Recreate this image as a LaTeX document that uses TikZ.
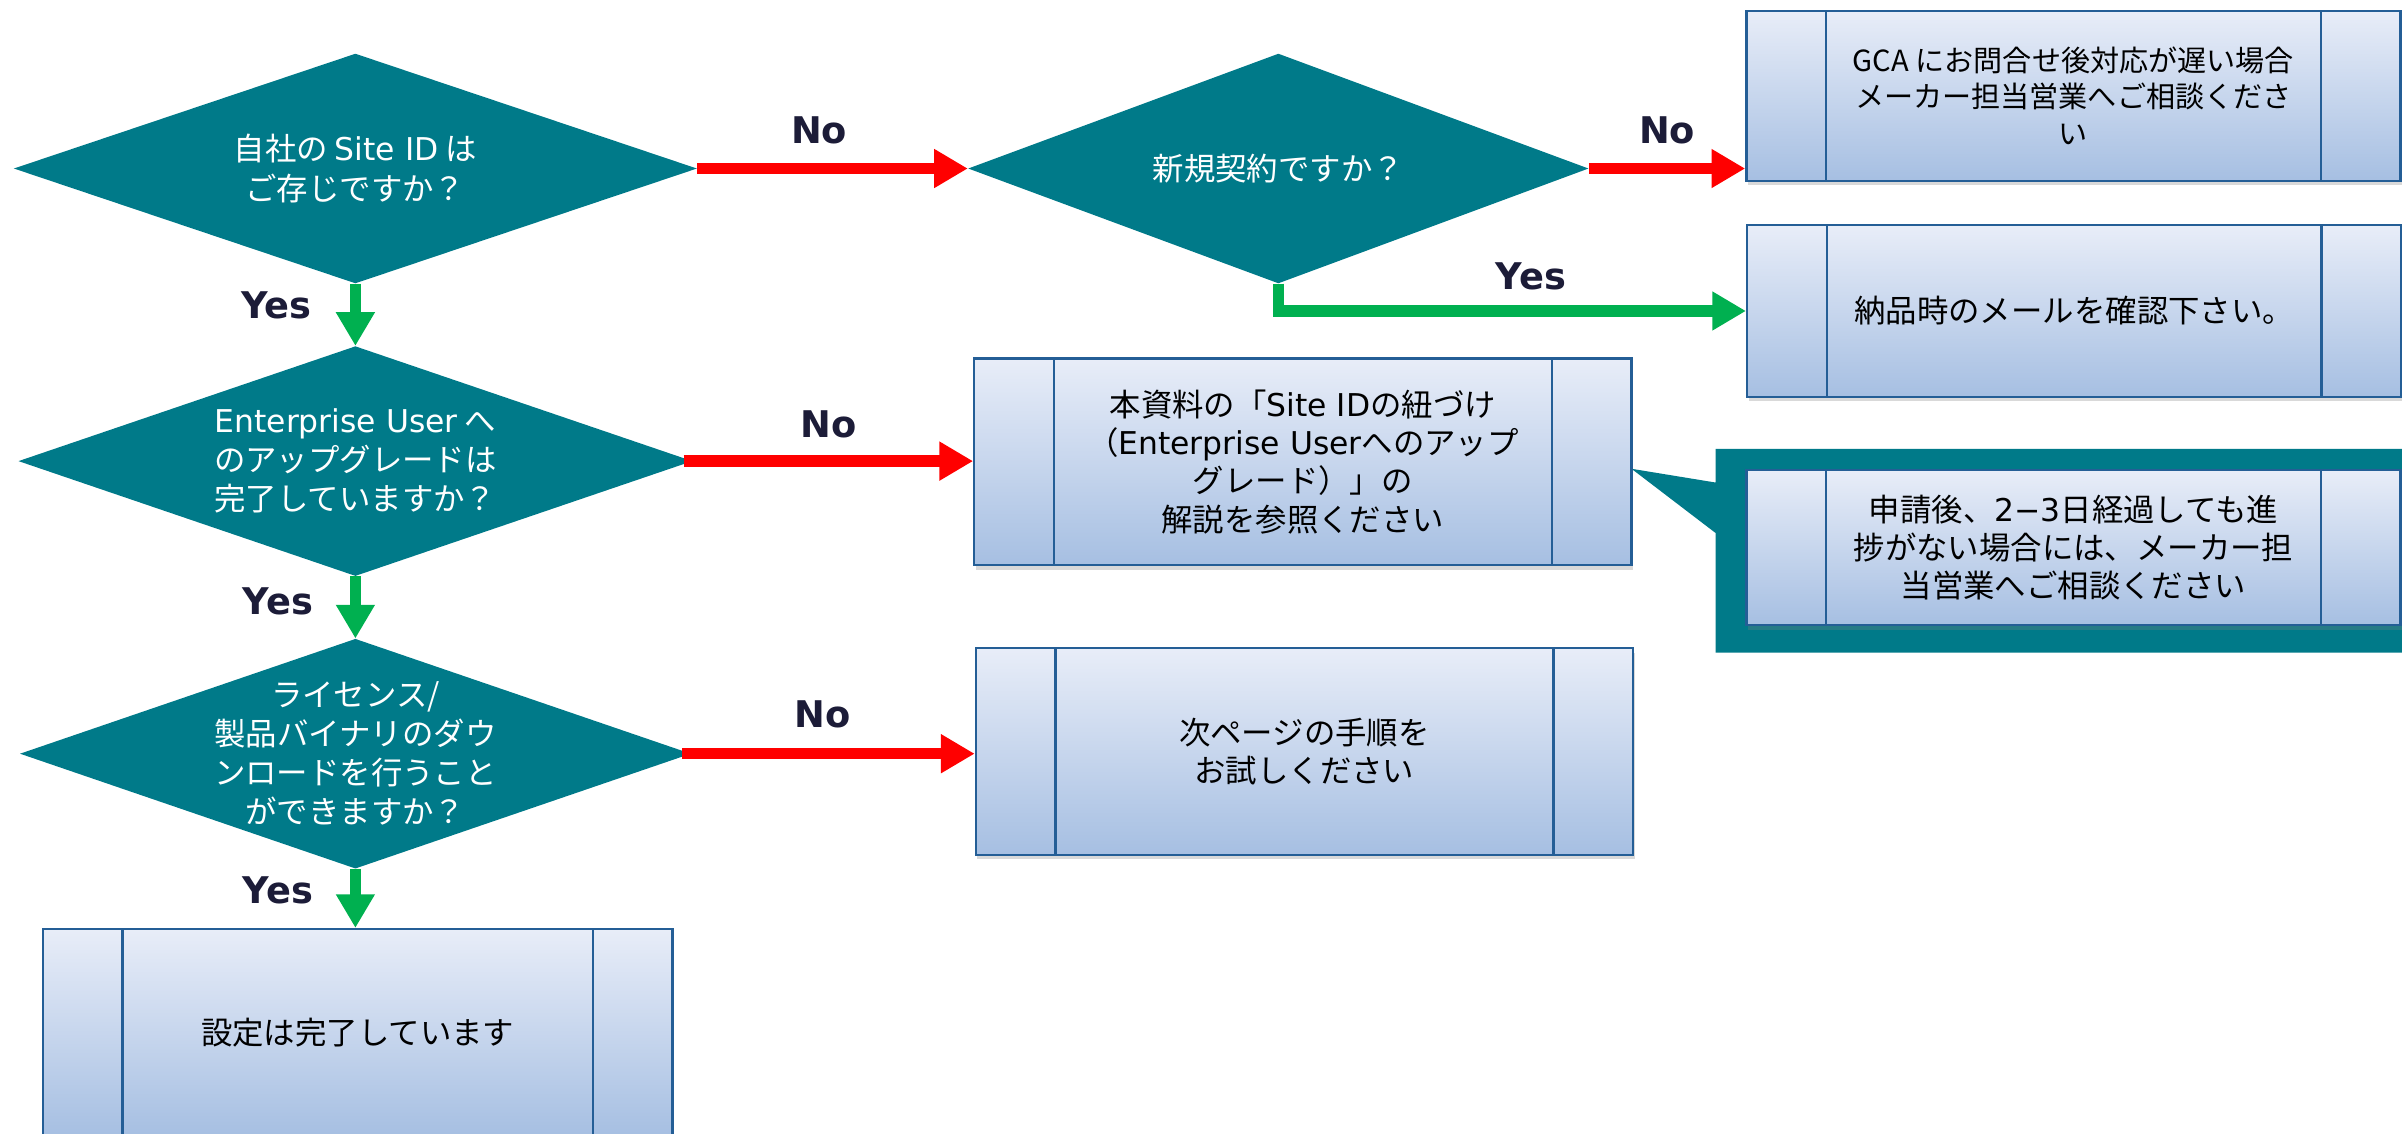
\documentclass[tikz,border=0pt]{standalone}
\usepackage{fontspec}
\setmainfont{Noto Sans CJK JP}
\newfontfamily\ynfont{DejaVu Sans}
\newfontfamily\lat{DejaVu Sans}
\usetikzlibrary{arrows.meta, shapes.geometric, shadows}

\definecolor{flowteal}{RGB}{0,122,137}
\definecolor{boxedge}{RGB}{36,94,150}
\definecolor{boxtop}{RGB}{232,237,248}
\definecolor{boxbottom}{RGB}{166,191,226}
\definecolor{ynblue}{RGB}{28,28,56}
\definecolor{yesgreen}{RGB}{0,176,80}
\definecolor{nored}{RGB}{255,0,0}

\begin{document}
\begin{tikzpicture}[x=1pt, y=-1pt,
    decision/.style={diamond, fill=flowteal, inner sep=0pt, minimum width=#1, minimum height=150pt},
    dtext/.style={text=white, align=center, inner sep=0pt, font=\fontsize{20.5}{25.5}\selectfont},
    process/.style={rectangle, draw=boxedge, line width=1.5pt, top color=boxtop, bottom color=boxbottom,
      minimum width=428pt, minimum height=135pt, align=center, font=\fontsize{20.5}{25}\selectfont,
      drop shadow={shadow xshift=1pt, shadow yshift=-3pt, opacity=.3},
      path picture={
        \draw[boxedge, line width=1.5pt] ([xshift=52pt]path picture bounding box.north west) -- ([xshift=52pt]path picture bounding box.south west);
        \draw[boxedge, line width=1.5pt] ([xshift=-52pt]path picture bounding box.north east) -- ([xshift=-52pt]path picture bounding box.south east);
      }},
    yn/.style={font=\ynfont\bfseries\fontsize{24}{28}\selectfont, text=ynblue, inner sep=0pt},
    flow/.style={line width=7.5pt, -{Triangle[length=22pt, width=24pt]}},
  ]
    \useasboundingbox (0,0) rectangle (1568,740);

    % Callout behind the note
    \coordinate (tip) at (1065,306);
    \fill[flowteal] (1120,293) -- (1580,293) -- (1580,426) -- (1120,426) -- (1120,348) -- (tip) -- (1120,315) -- cycle;

    % Decisions
    \node[decision=446pt, label={[dtext]center:自社の {\lat Site ID} は\\ご存じですか？}] (d1) at (232,110) {};
    \node[decision=405pt, label={[dtext]center:新規契約ですか？}] (d2) at (834.5,110) {};
    \node[decision=440pt, label={[dtext]center:{\lat Enterprise User} へ\\のアップグレードは\\完了していますか？}] (d3) at (232,301) {};
    \node[decision=438pt, label={[dtext]center:ライセンス/\\製品バイナリのダウ\\ンロードを行うこと\\ができますか？}] (d4) at (232,492) {};

    % Boxes
    \node[process, minimum width=427pt, minimum height=111pt, font=\fontsize{19}{24}\selectfont] (gca) at (1353.5,62.5) {GCA にお問合せ後対応が遅い場合\\メーカー担当営業へご相談くださ\\い};
    \node[process, minimum width=427pt, minimum height=112pt] (mail) at (1354,203) {納品時のメールを確認下さい。};
    \node[process, minimum width=429pt] (manual) at (850.5,301.5) {本資料の「{\lat Site ID}の紐づけ\\（{\lat Enterprise User}へのアップ\\グレード）」の\\解説を参照ください};
    \node[process, minimum width=427pt, minimum height=101pt] (delay) at (1353.5,357.5) {申請後、{\lat 2−3}日経過しても進\\捗がない場合には、メーカー担\\当営業へご相談ください};
    \node[process, minimum width=429pt] (next) at (851.5,490.5) {次ページの手順を\\お試しください};
    \node[process, minimum width=411pt, minimum height=135pt] (done) at (233.5,674) {設定は完了しています};

    % Arrows
    \draw[flow, nored] (d1) -- node[yn, above=12pt, pos=0.45] {No} (d2);
    \draw[flow, nored] (d2) -- node[yn, above=12pt] {No} (gca.west |- d2);
    \draw[flow, yesgreen] (d2.south) |- node[yn, above=10pt, pos=0.77] {Yes} (mail.west);
    \draw[flow, nored] ([xshift=-6pt]d3.east) -- node[yn, above=11pt, pos=0.5] {No} (d3.east -| manual.west);
    \draw[flow, nored] ([xshift=-6pt]d4.east) -- node[yn, above=13pt, pos=0.48] {No} (d4.east -| next.west);
    \draw[flow, yesgreen] (d1.south) -- node[yn, left=25pt, pos=0.35] {Yes} (d3.north);
    \draw[flow, yesgreen] (d3.south) -- node[yn, left=24pt, pos=0.4] {Yes} (d4.north);
    \draw[flow, yesgreen] (d4.south) -- node[yn, left=24pt, pos=0.36] {Yes} (d4.south |- done.north);
  \end{tikzpicture}
\end{document}
